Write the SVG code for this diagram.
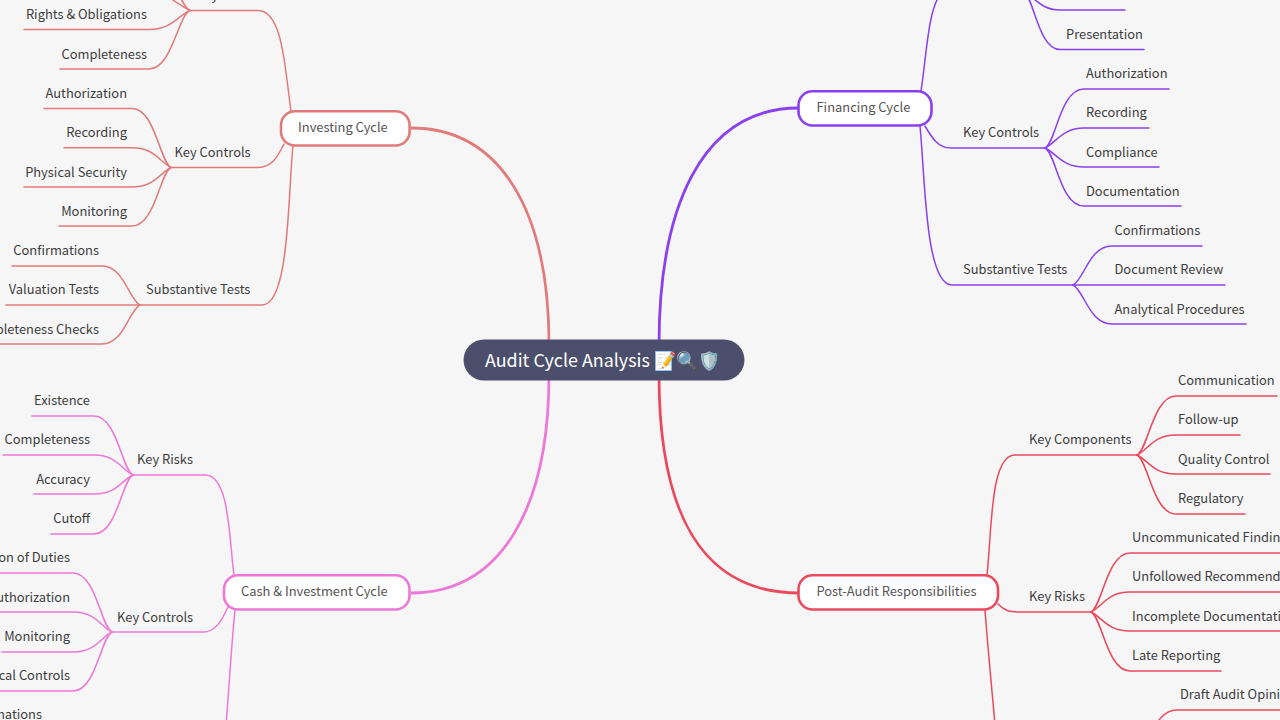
<svg xmlns="http://www.w3.org/2000/svg" width="1280" height="720" viewBox="0 0 1280 720">
<style>
text{font-family:"Noto Sans CJK SC","Noto Sans",sans-serif;font-size:12.9px;fill:#3d3d3d}
.e{text-anchor:end}
.l1{fill:#555555}
.c{fill:none;stroke-width:1.5;stroke-linecap:round}
.m{fill:none;stroke-width:2.8}
.box{fill:#fff;stroke-width:2.6}
.inv{stroke:#e17b7b}.fin{stroke:#8a3ff0}.cash{stroke:#ee78d8}.post{stroke:#ea4a5e}
</style>
<rect width="1280" height="720" fill="#f6f6f6"/>
<g id="connectors">
<path class="m inv" d="M549 345C549 210 500 128 411 128"/>
<path class="m fin" d="M659 345C659 210 700 108 799 108"/>
<path class="m cash" d="M549 375C549 510 500 593 411 593"/>
<path class="m post" d="M659 375C659 510 700 593 799 593"/>
<g class="c inv">
<path d="M291 111C285 70 283 10.500 258 10.500H190"/>
<path d="M284 144C278 156 272 167.500 258 167.500H171"/>
<path d="M293 146C288 190 290 305 262 305H140"/>
<path d="M190 10.500C178 5.500 168 -48 145 -48"/>
<path d="M190 10.500C178 5.500 167 -9 145 -9"/>
<path d="M190 10.500C178 15.500 172 29.500 149 29.500H24"/>
<path d="M190 10.500C178 15.500 172 69 149 69H60"/>
<path d="M171 167.500C160 162.500 155 108.500 132 108.500H44"/>
<path d="M171 167.500C160 162.500 155 147.700 132 147.700H64"/>
<path d="M171 167.500C160 172.500 155 187 132 187H24"/>
<path d="M171 167.500C160 172.500 155 226 132 226H59"/>
<path d="M140 305C129 300 124 266 102 266H12"/>
<path d="M140 305H6"/>
<path d="M140 305C129 310 124 344 102 344H-10"/>
</g>
<g class="c fin">
<path d="M921 91C926 60 928 10 940 -5"/>
<path d="M925 126C932 138 938 148 951 148H1045"/>
<path d="M920 126C925 175 925 285 952 285H1073"/>
<path d="M1023 -9C1034 -4 1040 10 1060 10H1125"/>
<path d="M1023 -9C1034 -4 1038 49.500 1060 49.500H1144"/>
<path d="M1045 148C1056 143 1060 89 1084 89H1169"/>
<path d="M1045 148C1056 143 1062 128 1084 128H1149"/>
<path d="M1045 148C1056 153 1062 167 1084 167H1159"/>
<path d="M1045 148C1056 153 1060 206 1084 206H1181"/>
<path d="M1073 285C1084 280 1089 246 1112 246H1202"/>
<path d="M1073 285H1225"/>
<path d="M1073 285C1084 290 1089 324 1112 324H1246"/>
</g>
<g class="c cash">
<path d="M234 575C229 540 230 475 205 475H133"/>
<path d="M228 607C222 620 216 632 203 632H112"/>
<path d="M235 610C231 650 229 690 226 725"/>
<path d="M133 475C122 470 117 416 94 416H32"/>
<path d="M133 475C122 470 117 455 94 455H3"/>
<path d="M133 475C122 480 117 494 94 494H34"/>
<path d="M133 475C122 480 117 534 94 534H51"/>
<path d="M112 632C101 627 96 573 73 573H-5"/>
<path d="M112 632C101 627 96 612 73 612H-5"/>
<path d="M112 632C101 637 96 652 73 652H2"/>
<path d="M112 632C101 637 96 691 73 691H-5"/>
</g>
<g class="c post">
<path d="M987 575C992 530 990 455 1015 455H1137"/>
<path d="M998 604C1004 610 1008 612 1020 612H1091"/>
<path d="M985 610C988 650 992 690 995 725"/>
<path d="M1137 455C1148 450 1153 396 1176 396H1277"/>
<path d="M1137 455C1148 450 1153 435 1176 435H1240"/>
<path d="M1137 455C1148 460 1153 474 1176 474H1270"/>
<path d="M1137 455C1148 460 1153 514 1176 514H1245"/>
<path d="M1091 612C1102 607 1107 553 1130 553H1285"/>
<path d="M1091 612C1102 607 1107 592 1130 592H1285"/>
<path d="M1091 612C1102 617 1107 631 1130 631H1285"/>
<path d="M1091 612C1102 617 1107 671 1130 671H1221"/>
<path d="M1138 749C1150 744 1155 710 1177 710H1285"/>
</g>
</g>
<g id="root"><rect x="463.500" y="339.500" width="281" height="41" rx="20.500" fill="#4c4f6b"/><text x="485" y="366.500" style="font-size:17.9px;fill:#fff">Audit Cycle Analysis 📝🔍🛡️</text></g>
<g id="investing-cycle"><rect class="box inv" x="281" y="111.200" width="128.600" height="34.300" rx="14"/><text class="l1" x="298" y="131.500">Investing Cycle</text></g>
<g id="financing-cycle"><rect class="box fin" x="798.500" y="91.200" width="133" height="34.300" rx="14"/><text class="l1" x="816.500" y="111.500">Financing Cycle</text></g>
<g id="cash-investment-cycle"><rect class="box cash" x="224" y="575.200" width="185.500" height="34.300" rx="14"/><text class="l1" x="241" y="595.500">Cash &amp; Investment Cycle</text></g>
<g id="post-audit"><rect class="box post" x="798.500" y="575.200" width="199.500" height="34.300" rx="14"/><text class="l1" x="816.500" y="595.500">Post-Audit Responsibilities</text></g>
<g id="n1"><text x="196" y="-0.500">Key Risks</text></g>
<g id="n2"><text class="e" x="147" y="19">Rights &amp; Obligations</text></g>
<g id="n3"><text class="e" x="147" y="58.500">Completeness</text></g>
<g id="n4"><text x="174.500" y="157">Key Controls</text></g>
<g id="n5"><text class="e" x="127" y="98">Authorization</text></g>
<g id="n6"><text class="e" x="127" y="137">Recording</text></g>
<g id="n7"><text class="e" x="127" y="176.500">Physical Security</text></g>
<g id="n8"><text class="e" x="127" y="215.500">Monitoring</text></g>
<g id="n9"><text x="146" y="294">Substantive Tests</text></g>
<g id="n10"><text class="e" x="99" y="255">Confirmations</text></g>
<g id="n11"><text class="e" x="99" y="294">Valuation Tests</text></g>
<g id="n12"><text class="e" x="99" y="333.500">Completeness Checks</text></g>
<g id="n13"><text x="1066" y="38.500">Presentation</text></g>
<g id="n14"><text x="963" y="137">Key Controls</text></g>
<g id="n15"><text x="1086" y="78">Authorization</text></g>
<g id="n16"><text x="1086" y="117">Recording</text></g>
<g id="n17"><text x="1086" y="156.500">Compliance</text></g>
<g id="n18"><text x="1086" y="195.500">Documentation</text></g>
<g id="n19"><text x="963" y="274">Substantive Tests</text></g>
<g id="n20"><text x="1114.500" y="235">Confirmations</text></g>
<g id="n21"><text x="1114.500" y="274">Document Review</text></g>
<g id="n22"><text x="1114.500" y="313.500">Analytical Procedures</text></g>
<g id="n23"><text x="137" y="464">Key Risks</text></g>
<g id="n24"><text class="e" x="90" y="405">Existence</text></g>
<g id="n25"><text class="e" x="90" y="444">Completeness</text></g>
<g id="n26"><text class="e" x="90" y="483.500">Accuracy</text></g>
<g id="n27"><text class="e" x="90" y="523">Cutoff</text></g>
<g id="n28"><text x="117" y="621.500">Key Controls</text></g>
<g id="n29"><text class="e" x="70" y="562">Segregation of Duties</text></g>
<g id="n30"><text class="e" x="70" y="601.500">Authorization</text></g>
<g id="n31"><text class="e" x="70" y="641">Monitoring</text></g>
<g id="n32"><text class="e" x="70" y="680">Physical Controls</text></g>
<g id="n33"><text class="e" x="42" y="719">Confirmations</text></g>
<g id="n34"><text x="1029" y="444">Key Components</text></g>
<g id="n35"><text x="1178" y="385">Communication</text></g>
<g id="n36"><text x="1178" y="424">Follow-up</text></g>
<g id="n37"><text x="1178" y="463.500">Quality Control</text></g>
<g id="n38"><text x="1178" y="503">Regulatory</text></g>
<g id="n39"><text x="1029" y="601">Key Risks</text></g>
<g id="n40"><text x="1132" y="542">Uncommunicated Findings</text></g>
<g id="n41"><text x="1132" y="581">Unfollowed Recommendations</text></g>
<g id="n42"><text x="1132" y="620.500">Incomplete Documentation</text></g>
<g id="n43"><text x="1132" y="660">Late Reporting</text></g>
<g id="n44"><text x="1180" y="699">Draft Audit Opinion</text></g>
</svg>
